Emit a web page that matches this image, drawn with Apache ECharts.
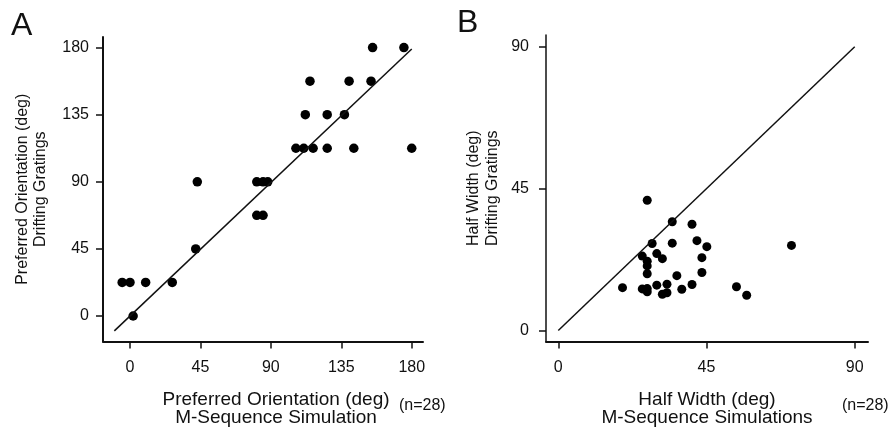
<!DOCTYPE html>
<html>
<head>
<meta charset="utf-8">
<script src="https://cdn.jsdelivr.net/npm/echarts@6/dist/echarts.min.js"></script>
<style>
  html, body { margin: 0; padding: 0; background: #fff; }
  #chart { width: 891px; height: 432px; }
</style>
</head>
<body>
<div id="chart"></div>
<script>
// panel A: preferred orientation (deg)
const ticksA = [0, 45, 90, 135, 180];
const prefSim = [155, 175, 115, 140, 154, 112, 126, 137, 106, 111, 117, 126, 143, 180, 43, 81, 85, 88, 81, 85, 42, -5, 0, 10, 27, 2];
const prefDrift = [180, 180, 157.5, 157.5, 157.5, 135, 135, 135, 112.5, 112.5, 112.5, 112.5, 112.5, 112.5, 90, 90, 90, 90, 67.5, 67.5, 45, 22.5, 22.5, 22.5, 22.5, 0];
const fitLineA = [[-10, -10], [180, 179]];

// panel B: half width (deg)
const ticksB = [0, 45, 90];
const hwSim = [27, 34.6, 40.6, 42.1, 34.6, 28.5, 45.1, 70.8, 25.5, 29.9, 31.6, 43.6, 27, 27, 27, 43.6, 36, 19.5, 25.5, 27, 27, 29.9, 33, 37.5, 40.6, 31.6, 33, 54.1, 57.2];
const hwDrift = [41.3, 34.5, 33.7, 28.5, 27.7, 27.6, 26.6, 27, 23.6, 24.4, 22.8, 23.1, 22, 20.5, 18, 18.4, 17.4, 13.6, 13.2, 13.3, 12.3, 14.4, 14.7, 13.1, 14.6, 11.5, 12, 13.9, 11.2];
const unityLineB = [[0, 0], [90, 90]];

const FONT = 'Liberation Sans, Arial, sans-serif';
const INK = '#111';

const makeAxis = (gridIndex, min, max, ticks, opts) => ({
    type: 'value',
    gridIndex,
    min,
    max,
    splitLine: { show: false },
    axisLine: { show: true, onZero: false, lineStyle: { color: INK, width: opts.lineWidth } },
    axisTick: { show: true, inside: false, length: 7, customValues: ticks, lineStyle: { color: INK, width: 1.5 } },
    axisLabel: {
        customValues: ticks,
        margin: opts.labelMargin,
        color: INK,
        fontFamily: FONT,
        fontSize: 16
    },
    name: opts.name,
    nameLocation: 'middle',
    nameGap: opts.nameGap,
    nameTextStyle: {
        color: INK,
        fontFamily: FONT,
        fontSize: opts.nameSize,
        lineHeight: opts.lineHeight,
        padding: opts.namePadding || 0
    }
});

const chart = echarts.init(document.getElementById('chart'), null, { renderer: 'canvas' });

const toPairs = (xs, ys) => xs.map((x, i) => [x, ys[i]]);

const option = {
    backgroundColor: '#fff',
    animation: false,
    grid: [
        { left: 103, top: 37, width: 320, height: 306 },
        { left: 546, top: 35, width: 322, height: 308 }
    ],
    xAxis: [
        makeAxis(0, -17.25, 187.2, ticksA, {
            lineWidth: 2, labelMargin: 18, nameGap: 49, lineHeight: 18, nameSize: 19,
            namePadding: [0, 0, 0, 26],
            name: 'Preferred Orientation (deg)\nM-Sequence Simulation'
        }),
        makeAxis(1, -3.73, 94.03, ticksB, {
            lineWidth: 2, labelMargin: 18, nameGap: 49, lineHeight: 18, nameSize: 19,
            name: 'Half Width (deg)\nM-Sequence Simulations'
        })
    ],
    yAxis: [
        makeAxis(0, -17.1, 187.1, ticksA, {
            lineWidth: 2, labelMargin: 14, nameGap: 53, lineHeight: 18, nameSize: 16,
            name: 'Preferred Orientation (deg)\nDrifting Gratings'
        }),
        makeAxis(1, -3.47, 93.7, ticksB, {
            lineWidth: 1.5, labelMargin: 17, nameGap: 44, lineHeight: 19, nameSize: 16,
            name: 'Half Width (deg)\nDrifting Gratings'
        })
    ],
    series: [
        {
            type: 'line',
            xAxisIndex: 0, yAxisIndex: 0,
            data: fitLineA,
            symbol: 'none',
            lineStyle: { color: INK, width: 1.5 },
            silent: true
        },
        {
            type: 'scatter',
            xAxisIndex: 0, yAxisIndex: 0,
            data: toPairs(prefSim, prefDrift),
            symbolSize: 9.5,
            itemStyle: { color: '#000', opacity: 1 }
        },
        {
            type: 'line',
            xAxisIndex: 1, yAxisIndex: 1,
            data: unityLineB,
            symbol: 'none',
            lineStyle: { color: INK, width: 1.5 },
            silent: true
        },
        {
            type: 'scatter',
            xAxisIndex: 1, yAxisIndex: 1,
            data: toPairs(hwSim, hwDrift),
            symbolSize: 9,
            itemStyle: { color: '#000', opacity: 1 }
        }
    ],
    graphic: [
        { type: 'text', left: 11, top: 10, style: { text: 'A', fontSize: 32, fontFamily: FONT, fill: INK } },
        { type: 'text', left: 457, top: 7, style: { text: 'B', fontSize: 32, fontFamily: FONT, fill: INK } },
        { type: 'text', left: 399, top: 398, style: { text: '(n=28)', fontSize: 16, fontFamily: FONT, fill: INK } },
        { type: 'text', left: 842, top: 398, style: { text: '(n=28)', fontSize: 16, fontFamily: FONT, fill: INK } }
    ]
};

chart.setOption(option);
window.addEventListener('resize', () => chart.resize());
</script>
</body>
</html>
